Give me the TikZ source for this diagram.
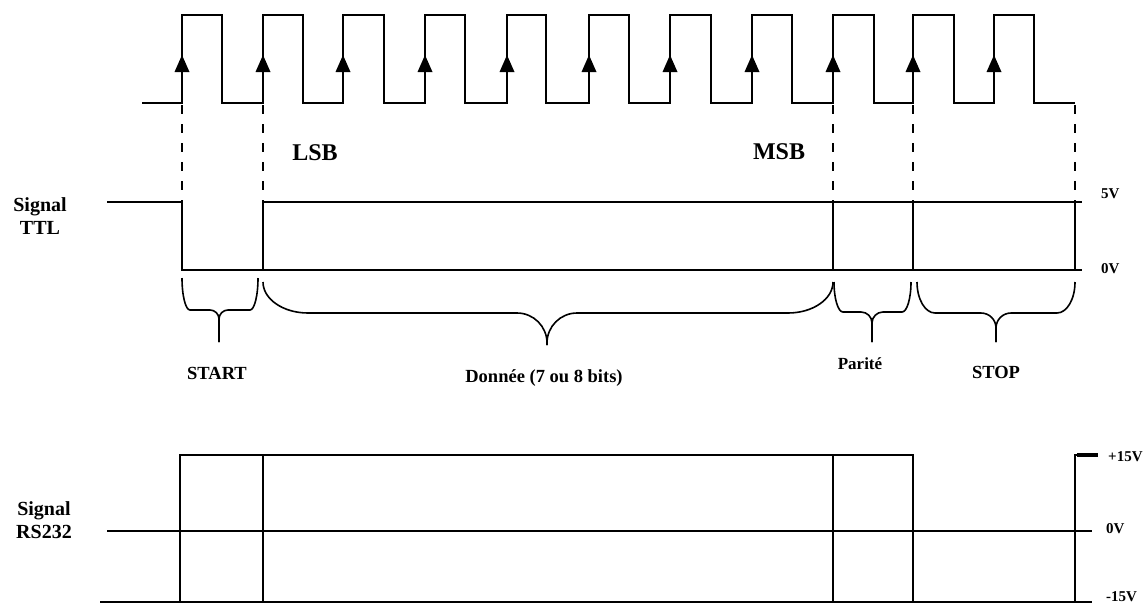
\documentclass[tikz,border=0pt]{standalone}
\usepackage{fontspec}
\setmainfont{Liberation Serif}
\newcommand\tbr[8]{% x1 x2 xm ytop yh ytip rs rm
\draw[brc] (#1,#4) .. controls (#1,{#4+0.552*(#5-#4)}) and ({#1+0.448*#7},#5) .. ({#1+#7},#5) -- ({#3-#8},#5) .. controls ({#3-0.448*#8},#5) and (#3,{#5+0.448*#8}) .. (#3,{#5+#8}) -- (#3,#6);
\draw[brc] (#2,#4) .. controls (#2,{#4+0.552*(#5-#4)}) and ({#2-0.448*#7},#5) .. ({#2-#7},#5) -- ({#3+#8},#5) .. controls ({#3+0.448*#8},#5) and (#3,{#5+0.448*#8}) .. (#3,{#5+#8}) -- (#3,#6);}
\begin{document}
\begin{tikzpicture}[x=1pt,y=-1pt,
  sig/.style={line width=2.4pt, line join=miter},
  dsh/.style={line width=1.6pt, dash pattern=on 9pt off 10pt},
  brc/.style={line width=1.6pt},
  big/.style={font=\bfseries\fontsize{20}{23}\selectfont, inner sep=0pt, align=center},
  msb/.style={font=\bfseries\fontsize{24}{28}\selectfont, inner sep=0pt, anchor=base},
  lbl/.style={font=\bfseries\fontsize{18.5}{22}\selectfont, inner sep=0pt, anchor=base},
  volt/.style={font=\bfseries\fontsize{15}{18}\selectfont, inner sep=0pt, anchor=base west}]
\useasboundingbox (0,0) rectangle (1148,603);
% clock
\draw[sig] (142,103) -- (182,103) -- (182,15) -- (222,15) -- (222,103) -- (263,103) -- (263,15) -- (303,15) -- (303,103) -- (343,103) -- (343,15) -- (384,15) -- (384,103) -- (425,103) -- (425,15) -- (465,15) -- (465,103) -- (507,103) -- (507,15) -- (546,15) -- (546,103) -- (589,103) -- (589,15) -- (629,15) -- (629,103) -- (670,103) -- (670,15) -- (711,15) -- (711,103) -- (752,103) -- (752,15) -- (792,15) -- (792,103) -- (833,103) -- (833,15) -- (874,15) -- (874,103) -- (913,103) -- (913,15) -- (954,15) -- (954,103) -- (994,103) -- (994,15) -- (1034,15) -- (1034,103) -- (1075,103);
\foreach \x in {182,263,343,425,507,589,670,752,833,913,994}
  \fill (\x-7.5,72) -- (\x+7.5,72) -- (\x,55) -- cycle;
% dashed
\foreach \x in {182,263,833,913,1075}
  \draw[dsh] (\x,105) -- (\x,201);
% TTL
\draw[sig] (107,202) -- (182,202) -- (182,270) -- (1082,270);
\draw[sig] (263,270) -- (263,202) -- (1082,202);
\foreach \x in {833,913,1075} \draw[sig] (\x,202) -- (\x,270);
% RS232
\draw[sig] (100,602) -- (1092,602);
\draw[sig] (107,531) -- (1092,531);
\draw[sig] (180,602) -- (180,455) -- (913,455) -- (913,602);
\foreach \x in {263,833} \draw[sig] (\x,455) -- (\x,602);
\draw[sig] (1075,602) -- (1075,455) -- (1098,455);
\draw[line width=4pt] (1077,455) -- (1098,455);
% braces
\tbr{182}{258}{219}{278}{310}{342}{8}{9}
\tbr{263}{833}{547}{282}{313}{345}{45}{30}
\tbr{834}{911}{872}{282}{312}{342}{9}{11}
\tbr{917}{1075}{996}{282}{313}{342}{18}{15}
% labels
\node[big] (ttl) at (40,216) {Signal\\TTL};
\node[big] (rs) at (44,520) {Signal\\RS232};
\node[msb] (lsb) at (315,160) {LSB};
\node[msb] (msb) at (779,159) {MSB};
\node[lbl] (start) at (217,379) {START};
\node[lbl] (data) at (544,382) {Donnée (7 ou 8 bits)};
\node[lbl,font=\bfseries\fontsize{17}{20}\selectfont] (par) at (860,369) {Parité};
\node[lbl] (stop) at (996,378) {STOP};
\node[volt] (v5) at (1101,198) {5V};
\node[volt] (v0) at (1101,273) {0V};
\node[volt] (p15) at (1108,461) {+15V};
\node[volt] (r0) at (1106,533) {0V};
\node[volt] (m15) at (1106,601) {-15V};
\end{tikzpicture}
\end{document}
